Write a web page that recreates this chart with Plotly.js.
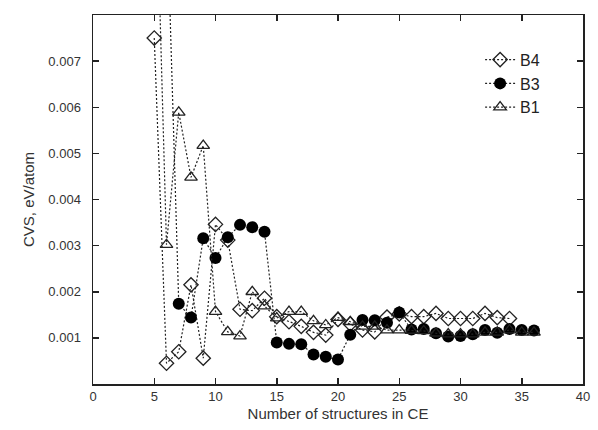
<!DOCTYPE html>
<html>
<head>
<meta charset="utf-8">
<script src="https://cdn.plot.ly/plotly-3.0.1.min.js"></script>
<style>html,body{margin:0;padding:0;background:#fff;}</style>
</head>
<body>
<div id="chart" style="width:598px;height:430px;"></div>
<script>
const seriesNames = ["B4", "B3", "B1"];

const xB4 = [5,6,7,8,9,10,11,12,13,14,15,16,17,18,19,20,21,22,23,24,25,26,27,28,29,30,31,32,33,34];
const yB4 = [0.0075,0.00045,0.0007,0.00215,0.00056,0.00346,0.00312,0.00162,0.00159,0.00186,0.00146,0.00135,0.00125,0.00112,0.00106,0.0014,0.0013,0.00117,0.00113,0.00145,0.00152,0.00146,0.00146,0.00153,0.00142,0.00142,0.00142,0.00153,0.00144,0.00142];

const xB3 = [6,7,8,9,10,11,12,13,14,15,16,17,18,19,20,21,22,23,24,25,26,27,28,29,30,31,32,33,34,35,36];
const yB3 = [0.0106,0.00174,0.00144,0.00316,0.00273,0.00318,0.00345,0.0034,0.0033,0.0009,0.00087,0.00086,0.00064,0.00059,0.00053,0.00107,0.00139,0.00138,0.00133,0.00155,0.00118,0.00119,0.0011,0.00103,0.00104,0.00108,0.00117,0.00111,0.00119,0.00117,0.00116];

const xB1 = [5,6,7,8,9,10,11,12,13,14,15,16,17,18,19,20,21,22,23,24,25,26,27,28,29,30,31,32,33,34,35,36];
const yB1 = [0.0125,0.00302,0.00589,0.00448,0.00517,0.00157,0.00113,0.00104,0.002,0.00169,0.00143,0.00157,0.00157,0.00137,0.00128,0.00144,0.00135,0.00125,0.00125,0.00117,0.00117,0.00116,0.00115,0.0011,0.00108,0.00108,0.00108,0.00112,0.00112,0.00117,0.00112,0.00112];

const xTicks = [0,5,10,15,20,25,30,35,40];
const yTicks = [0.001,0.002,0.003,0.004,0.005,0.006,0.007];
const yTickText = ["0.001","0.002","0.003","0.004","0.005","0.006","0.007"];

const lineStyle = {color: "#222", width: 1.2, dash: "2px,2px"};

const traces = [
  {x: xB4, y: yB4, name: seriesNames[0], mode: "lines+markers", line: lineStyle,
   marker: {symbol: "diamond-open", size: 11, color: "#222", line: {width: 1.3}}},
  {x: xB3, y: yB3, name: seriesNames[1], mode: "lines+markers", line: lineStyle,
   marker: {symbol: "circle", size: 12, color: "#000"}},
  {x: xB1, y: yB1, name: seriesNames[2], mode: "lines+markers", line: lineStyle,
   marker: {symbol: "triangle-up-open", size: 11, color: "#222", line: {width: 1.3}}}
];

const fam = "Liberation Sans, Arial, sans-serif";
const axisFont = {family: fam, size: 13, color: "#333"};

const layout = {
  width: 598, height: 430,
  margin: {l: 93, r: 15, t: 15, b: 46},
  paper_bgcolor: "#fff", plot_bgcolor: "#fff",
  showlegend: true,
  legend: {x: 0.79, y: 0.925, xanchor: "left", yanchor: "top", bgcolor: "rgba(0,0,0,0)",
           font: {family: fam, size: 16, color: "#222"},
           tracegroupgap: 0, itemwidth: 30},
  xaxis: {range: [0, 40], tickvals: xTicks, ticks: "inside", ticklen: 6, tickwidth: 1.5,
          tickcolor: "#222", showline: true, linecolor: "#222", linewidth: 1.5, mirror: "ticks",
          showgrid: false, zeroline: false, tickfont: axisFont,
          title: {text: "Number of structures in CE", font: {family: fam, size: 15, color: "#333"}, standoff: 5}},
  yaxis: {range: [0, 0.008], tickvals: yTicks, ticktext: yTickText, ticks: "inside", ticklen: 6, tickwidth: 1.5,
          tickcolor: "#222", showline: true, linecolor: "#222", linewidth: 1.5, mirror: "ticks",
          showgrid: false, zeroline: false, tickfont: axisFont, ticklabelstandoff: 8,
          title: {text: "CVS, eV/atom", font: {family: fam, size: 15, color: "#333"}, standoff: 10}}
};

Plotly.newPlot("chart", traces, layout, {displayModeBar: false, staticPlot: true});
</script>
</body>
</html>
